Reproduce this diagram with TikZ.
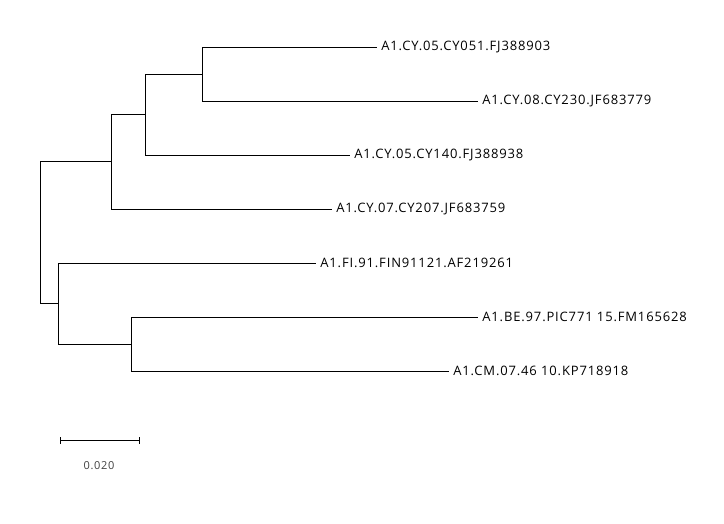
\documentclass[tikz,border=0pt]{standalone}
\usepackage{fontspec}
\setmainfont[LetterSpace=6.5]{Open Sans}
\begin{document}
\begin{tikzpicture}[x=1pt,y=-1pt,line width=0.8pt,
	leaf/.style={anchor=west,inner xsep=4pt,inner ysep=0pt,font=\fontsize{13}{15}\selectfont}]
	\useasboundingbox (0,0) rectangle (724,524);
	%Nut trong
	\coordinate (r) at (40,232);
	\coordinate (n1) at (111,161);
	\coordinate (n2) at (145,114);
	\coordinate (n3) at (202,74);
	\coordinate (n4) at (58,303);
	\coordinate (n5) at (131,344);
	%La
	\node[leaf] (a1) at (377,47) {A1.CY.05.CY051.FJ388903};
	\node[leaf] (a2) at (478,101) {A1.CY.08.CY230.JF683779};
	\node[leaf] (a3) at (350,155) {A1.CY.05.CY140.FJ388938};
	\node[leaf] (a4) at (332,209) {A1.CY.07.CY207.JF683759};
	\node[leaf] (a5) at (316,263) {A1.FI.91.FIN91121.AF219261};
	\node[leaf] (a6) at (478,317) {A1.BE.97.PIC771 15.FM165628};
	\node[leaf] (a7) at (449,371) {A1.CM.07.46 10.KP718918};
	%Nhanh
	\draw (r) |- (n1);
	\draw (r) |- (n4);
	\draw (n1) |- (n2);
	\draw (n1) |- (a4.west);
	\draw (n2) |- (n3);
	\draw (n2) |- (a3.west);
	\draw (n3) |- (a1.west);
	\draw (n3) |- (a2.west);
	\draw (n4) |- (a5.west);
	\draw (n4) |- (n5);
	\draw (n5) |- (a6.west);
	\draw (n5) |- (a7.west);
	%Thuoc do
	\coordinate (s1) at (60,440);
	\coordinate (s2) at (139,440);
	\draw (s1) -- (s2);
	\draw ([yshift=-3.5]s1) -- ([yshift=3.5]s1);
	\draw ([yshift=-3.5]s2) -- ([yshift=3.5]s2);
	\node[text=black!75,font=\fontsize{11}{13}\selectfont] (sl) at (99,466) {0.020};
\end{tikzpicture}
\end{document}
